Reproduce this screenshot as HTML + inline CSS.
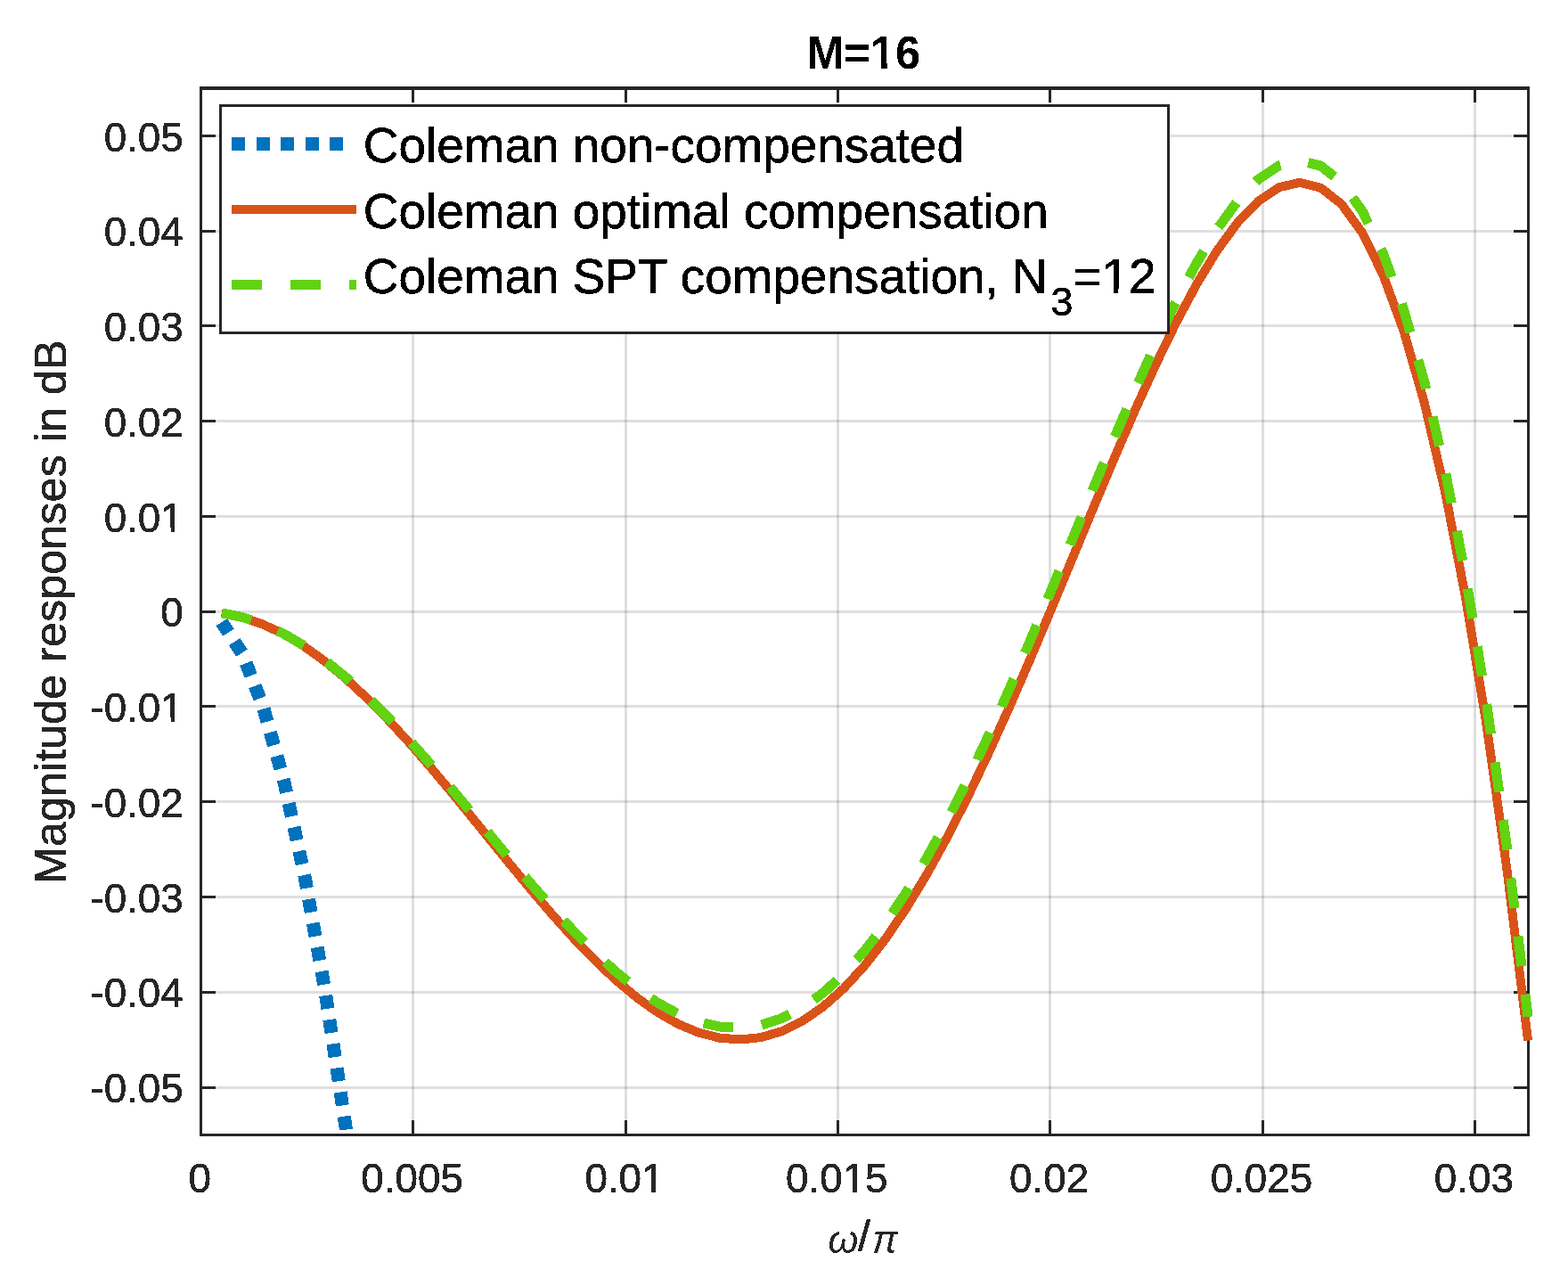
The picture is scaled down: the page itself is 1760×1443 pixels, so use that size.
<!DOCTYPE html>
<html><head><meta charset="utf-8"><title>M=16</title><style>html,body{margin:0;padding:0;background:#fff;}svg{display:block;}</style></head><body>
<svg width="1760" height="1443" viewBox="0 0 1760 1443">
<rect x="0" y="0" width="1760" height="1443" fill="#ffffff"/>
<defs><filter id="bin" x="-5%" y="-20%" width="110%" height="140%" color-interpolation-filters="sRGB"><feComponentTransfer><feFuncA type="discrete" tableValues="0 1"/></feComponentTransfer></filter></defs>
<path d="M463.83,98.80V1273.50M702.17,98.80V1273.50M940.50,98.80V1273.50M1178.83,98.80V1273.50M1417.17,98.80V1273.50M1655.50,98.80V1273.50" stroke="#262626" stroke-opacity="0.15" stroke-width="3" fill="none" shape-rendering="crispEdges"/>
<path d="M225.50,1220.00H1715.08M225.50,1113.24H1715.08M225.50,1006.48H1715.08M225.50,899.72H1715.08M225.50,792.96H1715.08M225.50,686.20H1715.08M225.50,579.44H1715.08M225.50,472.68H1715.08M225.50,365.92H1715.08M225.50,259.16H1715.08M225.50,152.40H1715.08" stroke="#262626" stroke-opacity="0.15" stroke-width="3" fill="none" shape-rendering="crispEdges"/>
<path d="M225.50,1273.50V1257.00M225.50,98.80V115.30M463.83,1273.50V1257.00M463.83,98.80V115.30M702.17,1273.50V1257.00M702.17,98.80V115.30M940.50,1273.50V1257.00M940.50,98.80V115.30M1178.83,1273.50V1257.00M1178.83,98.80V115.30M1417.17,1273.50V1257.00M1417.17,98.80V115.30M1655.50,1273.50V1257.00M1655.50,98.80V115.30M225.50,1220.00H242.00M1715.08,1220.00H1698.58M225.50,1113.24H242.00M1715.08,1113.24H1698.58M225.50,1006.48H242.00M1715.08,1006.48H1698.58M225.50,899.72H242.00M1715.08,899.72H1698.58M225.50,792.96H242.00M1715.08,792.96H1698.58M225.50,686.20H242.00M1715.08,686.20H1698.58M225.50,579.44H242.00M1715.08,579.44H1698.58M225.50,472.68H242.00M1715.08,472.68H1698.58M225.50,365.92H242.00M1715.08,365.92H1698.58M225.50,259.16H242.00M1715.08,259.16H1698.58M225.50,152.40H242.00M1715.08,152.40H1698.58" stroke="#262626" stroke-width="3" fill="none" shape-rendering="crispEdges"/>
<g fill="#262626" shape-rendering="crispEdges"><rect x="224" y="97" width="1493" height="4"/><rect x="224" y="1272" width="1493" height="3"/><rect x="224" y="97" width="3" height="1178"/><rect x="1714" y="97" width="3" height="1178"/></g>
<polyline points="248.77,698.06 272.05,733.65 295.32,792.95 318.60,875.98 341.87,982.73 365.15,1113.21 388.42,1267.41 389.22,1273.50" fill="none" stroke="#0072bd" stroke-width="15" stroke-dasharray="15 12.45" stroke-dashoffset="1.13" stroke-linecap="butt" stroke-linejoin="round" shape-rendering="crispEdges"/>
<polyline points="248.77,687.82 272.05,692.66 295.32,700.65 318.60,711.71 341.87,725.68 365.15,742.41 388.42,761.68 411.70,783.25 434.97,806.84 458.25,832.15 481.52,858.86 504.80,886.62 528.07,915.05 551.35,943.76 574.62,972.37 597.90,1000.46 621.17,1027.63 644.45,1053.46 667.72,1077.55 690.99,1099.51 714.27,1118.95 737.54,1135.51 760.82,1148.85 784.09,1158.64 807.37,1164.61 830.64,1166.51 853.92,1164.12 877.19,1157.29 900.47,1145.88 923.74,1129.83 947.02,1109.12 970.29,1083.79 993.57,1053.94 1016.84,1019.71 1040.12,981.33 1063.39,939.08 1086.67,893.30 1109.94,844.41 1133.21,792.88 1156.49,739.24 1179.76,684.11 1203.04,628.15 1226.31,572.09 1249.59,516.71 1272.86,462.86 1296.14,411.43 1319.41,363.38 1342.69,319.70 1365.96,281.44 1389.24,249.68 1412.51,225.54 1435.79,210.19 1459.06,204.81 1482.34,210.62 1505.61,228.86 1528.89,260.79 1552.16,307.71 1575.43,370.91 1598.71,451.71 1621.98,551.47 1645.26,671.54 1668.53,813.31 1691.81,978.21 1715.08,1167.68" fill="none" stroke="#d95319" stroke-width="10" stroke-linecap="butt" stroke-linejoin="round" shape-rendering="crispEdges"/>
<polyline points="248.77,687.79 272.05,692.53 295.32,700.37 318.60,711.22 341.87,724.92 365.15,741.33 388.42,760.22 411.70,781.36 434.97,804.48 458.25,829.28 481.52,855.44 504.80,882.61 528.07,910.43 551.35,938.51 574.62,966.46 597.90,993.88 621.17,1020.37 644.45,1045.52 667.72,1068.92 690.99,1090.19 714.27,1108.95 737.54,1124.83 760.82,1137.50 784.09,1146.64 807.37,1151.97 830.64,1153.24 853.92,1150.24 877.19,1142.81 900.47,1130.82 923.74,1114.21 947.02,1092.94 970.29,1067.07 993.57,1036.68 1016.84,1001.94 1040.12,963.05 1063.39,920.30 1086.67,874.03 1109.94,824.65 1133.21,772.64 1156.49,718.54 1179.76,662.95 1203.04,606.54 1226.31,550.05 1249.59,494.26 1272.86,440.02 1296.14,388.23 1319.41,339.85 1342.69,295.88 1365.96,257.37 1389.24,225.42 1412.51,201.14 1435.79,185.71 1459.06,180.30 1482.34,186.13 1505.61,204.45 1528.89,236.49 1552.16,283.53 1575.43,346.85 1598.71,427.73 1621.98,527.46 1645.26,647.34 1668.53,788.68 1691.81,952.79 1715.08,1141.00" fill="none" stroke="#61d311" stroke-width="11" stroke-dasharray="33.85 31.85" stroke-dashoffset="-0.4" stroke-linecap="butt" stroke-linejoin="round" shape-rendering="crispEdges"/>
<g fill="#262626" stroke="#262626" stroke-width="0.55" font-family="Liberation Sans, Arial, sans-serif" filter="url(#bin)">
<text transform="translate(224.30,1337.6) scale(1,1.027)" font-size="45.8" text-anchor="middle">0</text>
<text transform="translate(462.63,1337.6) scale(1,1.027)" font-size="45.8" text-anchor="middle">0.005</text>
<text transform="translate(700.97,1337.6) scale(1,1.027)" font-size="45.8" text-anchor="middle">0.01</text>
<text transform="translate(939.30,1337.6) scale(1,1.027)" font-size="45.8" text-anchor="middle">0.015</text>
<text transform="translate(1177.63,1337.6) scale(1,1.027)" font-size="45.8" text-anchor="middle">0.02</text>
<text transform="translate(1415.97,1337.6) scale(1,1.027)" font-size="45.8" text-anchor="middle">0.025</text>
<text transform="translate(1654.30,1337.6) scale(1,1.027)" font-size="45.8" text-anchor="middle">0.03</text>
<text transform="translate(205.8,1237.20) scale(1,1.027)" font-size="45.8" text-anchor="end">-0.05</text>
<text transform="translate(205.8,1130.44) scale(1,1.027)" font-size="45.8" text-anchor="end">-0.04</text>
<text transform="translate(205.8,1023.68) scale(1,1.027)" font-size="45.8" text-anchor="end">-0.03</text>
<text transform="translate(205.8,916.92) scale(1,1.027)" font-size="45.8" text-anchor="end">-0.02</text>
<text transform="translate(205.8,810.16) scale(1,1.027)" font-size="45.8" text-anchor="end">-0.01</text>
<text transform="translate(205.8,703.40) scale(1,1.027)" font-size="45.8" text-anchor="end">0</text>
<text transform="translate(205.8,596.64) scale(1,1.027)" font-size="45.8" text-anchor="end">0.01</text>
<text transform="translate(205.8,489.88) scale(1,1.027)" font-size="45.8" text-anchor="end">0.02</text>
<text transform="translate(205.8,383.12) scale(1,1.027)" font-size="45.8" text-anchor="end">0.03</text>
<text transform="translate(205.8,276.36) scale(1,1.027)" font-size="45.8" text-anchor="end">0.04</text>
<text transform="translate(205.8,169.60) scale(1,1.027)" font-size="45.8" text-anchor="end">0.05</text>
<text transform="translate(73.9,686.7) rotate(-90)" x="0" y="0" font-size="50.4" text-anchor="middle">Magnitude responses in dB</text>
<text x="929.4" y="1406.2" font-style="italic" font-size="43.5" stroke-width="0">ω</text>
<text x="962.9" y="1404.4" font-size="50.2">/</text>
<text x="978.8" y="1406.4" font-style="italic" font-size="43.5" stroke-width="0">π</text>
</g>
<text transform="translate(969.1,76.8) scale(1,1.027)" font-family="Liberation Sans, Arial, sans-serif" font-size="50.6" font-weight="bold" fill="#000000" text-anchor="middle" filter="url(#bin)">M=16</text>
<rect x="247.5" y="118.5" width="1064.0" height="255.0" fill="#ffffff" stroke="#262626" stroke-width="3" shape-rendering="crispEdges"/>
<g shape-rendering="crispEdges"><line x1="260" y1="161.5" x2="397" y2="161.5" stroke="#0072bd" stroke-width="15" stroke-dasharray="15 12.5"/>
<line x1="260" y1="235" x2="399.5" y2="235" stroke="#d95319" stroke-width="10"/>
<line x1="260" y1="319.5" x2="399.5" y2="319.5" stroke="#61d311" stroke-width="11" stroke-dasharray="34 32"/></g>
<g fill="#000000" stroke="#000000" stroke-width="0.55" font-family="Liberation Sans, Arial, sans-serif" filter="url(#bin)">
<text x="407.8" y="182" font-size="54.9">Coleman non-compensated</text>
<text x="407.8" y="255.7" font-size="54.9">Coleman optimal compensation</text>
<text x="407.8" y="329" font-size="54.9">Coleman SPT compensation, N</text>
<text x="1179.4" y="353.5" font-size="44.8">3</text>
<text x="1204.5" y="329" font-size="54.9">=12</text>
</g>
<rect x="722.35" y="1332.89" width="8.95" height="5.91" fill="#ffffff" shape-rendering="crispEdges"/>
<rect x="735.90" y="1332.89" width="8.60" height="5.91" fill="#ffffff" shape-rendering="crispEdges"/>
<rect x="947.95" y="1332.89" width="8.95" height="5.91" fill="#ffffff" shape-rendering="crispEdges"/>
<rect x="961.50" y="1332.89" width="8.60" height="5.91" fill="#ffffff" shape-rendering="crispEdges"/>
<rect x="182.62" y="805.45" width="8.95" height="5.91" fill="#ffffff" shape-rendering="crispEdges"/>
<rect x="196.17" y="805.45" width="8.60" height="5.91" fill="#ffffff" shape-rendering="crispEdges"/>
<rect x="182.62" y="591.93" width="8.95" height="5.91" fill="#ffffff" shape-rendering="crispEdges"/>
<rect x="196.17" y="591.93" width="8.60" height="5.91" fill="#ffffff" shape-rendering="crispEdges"/>
<rect x="978.80" y="70.30" width="9.82" height="7.70" fill="#ffffff" shape-rendering="crispEdges"/>
<rect x="995.56" y="70.30" width="9.18" height="7.70" fill="#ffffff" shape-rendering="crispEdges"/>
<rect x="1239.54" y="323.70" width="10.55" height="6.50" fill="#ffffff" shape-rendering="crispEdges"/>
<rect x="1255.49" y="323.70" width="10.12" height="6.50" fill="#ffffff" shape-rendering="crispEdges"/>
</svg>
</body></html>
